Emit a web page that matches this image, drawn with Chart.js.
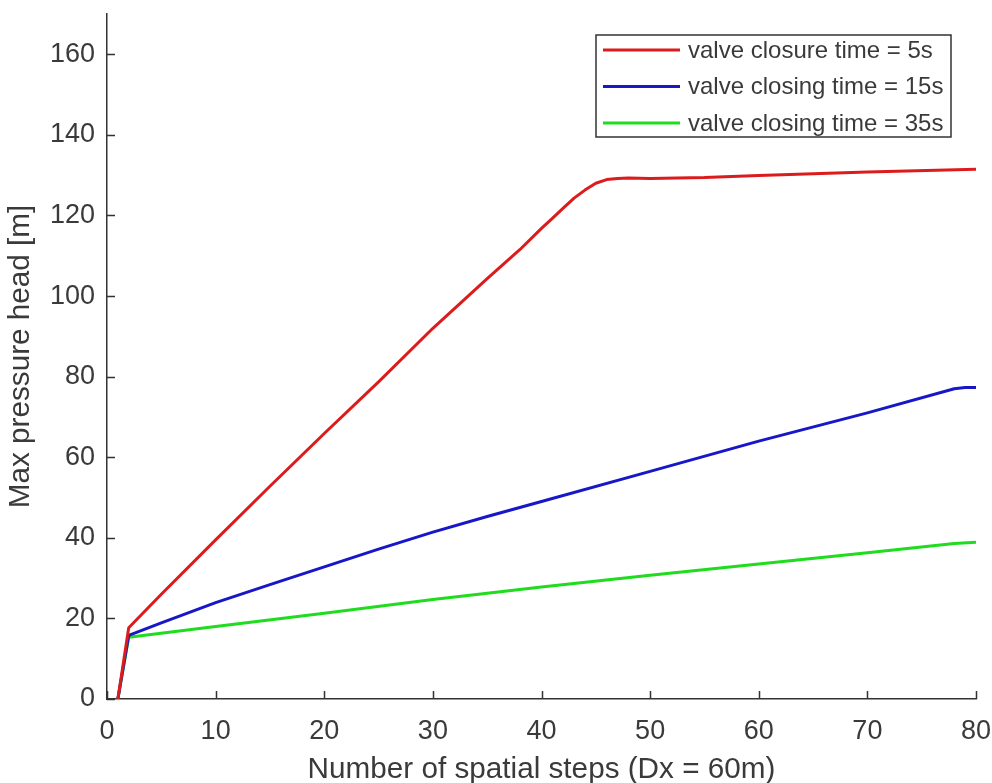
<!DOCTYPE html>
<html lang="en">
<head>
    <meta charset="UTF-8">
    <title>Max pressure head vs spatial steps</title>
    <script src="https://cdn.jsdelivr.net/npm/chart.js"></script>
    <style>
        body { margin: 0; background: #fff; }
        #wrap { width: 992px; height: 783px; }
    </style>
</head>
<body>
    <div id="wrap"><canvas id="headChart" width="992" height="783"></canvas></div>

    <script>
        // values
        const seriesLabels = ['valve closure time = 5s', 'valve closing time = 15s', 'valve closing time = 35s'];

        const redSteps = [1, 2, 5, 10, 15, 20, 25, 30, 35, 38, 40, 41, 42, 43, 44, 45, 46, 47, 48, 50, 55, 60, 70, 80];
        const redHead = [0, 17.7, 26, 39.5, 52.8, 65.9, 78.7, 92, 104.3, 111.5, 116.8, 119.3, 121.8, 124.3, 126.3, 128, 128.9, 129.2, 129.3, 129.2, 129.4, 129.9, 130.8, 131.5];

        const blueSteps = [1, 2, 5, 10, 15, 20, 25, 30, 35, 40, 50, 60, 70, 78, 79, 80];
        const blueHead = [0, 15.8, 18.9, 23.9, 28.4, 32.8, 37.2, 41.4, 45.3, 49, 56.5, 64, 71, 77, 77.3, 77.3];

        const greenSteps = [1, 2, 10, 20, 30, 40, 50, 60, 70, 78, 80];
        const greenHead = [0, 15.3, 18, 21.3, 24.7, 27.8, 30.7, 33.5, 36.3, 38.6, 38.9];

        const xTicks = [0, 10, 20, 30, 40, 50, 60, 70, 80];
        const yTicks = [0, 20, 40, 60, 80, 100, 120, 140, 160];

        const toPoints = (xs, ys) => xs.map((x, i) => ({ x: x, y: ys[i] }));

        const axisColor = '#333333';
        const textColor = '#3a3a3a';
        const family = "'Liberation Sans', Arial, sans-serif";

        // MATLAB style inward tick marks
        const innerTicks = {
            id: 'innerTicks',
            afterDraw(chart) {
                const ctx = chart.ctx;
                const xs = chart.scales.x, ys = chart.scales.y;
                ctx.save();
                ctx.strokeStyle = axisColor;
                ctx.lineWidth = 1.5;
                ctx.beginPath();
                xTicks.forEach(v => {
                    const px = Math.round(xs.getPixelForValue(v)) + 0.5;
                    ctx.moveTo(px, ys.bottom);
                    ctx.lineTo(px, ys.bottom - 8);
                });
                yTicks.forEach(v => {
                    const py = Math.round(ys.getPixelForValue(v)) + 0.5;
                    ctx.moveTo(xs.left, py);
                    ctx.lineTo(xs.left + 8, py);
                });
                ctx.stroke();
                ctx.restore();
            }
        };

        const boxLegend = {
            id: 'boxLegend',
            afterDraw(chart) {
                const ctx = chart.ctx;
                const area = chart.chartArea;
                const w = 355, h = 102;
                const x0 = area.right - 25 - w, y0 = area.top + 21;
                ctx.save();
                ctx.fillStyle = '#fff';
                ctx.fillRect(x0, y0, w, h);
                ctx.strokeStyle = axisColor;
                ctx.lineWidth = 1.5;
                ctx.strokeRect(x0, y0, w, h);
                ctx.font = '24px ' + family;
                ctx.textBaseline = 'middle';
                chart.data.datasets.forEach((ds, i) => {
                    const cy = y0 + 15 + i * 36.5;
                    ctx.strokeStyle = ds.borderColor;
                    ctx.lineWidth = 3;
                    ctx.beginPath();
                    ctx.moveTo(x0 + 7, cy);
                    ctx.lineTo(x0 + 84, cy);
                    ctx.stroke();
                    ctx.fillStyle = textColor;
                    ctx.fillText(ds.label, x0 + 92, cy + 1);
                });
                ctx.restore();
            }
        };

        new Chart(document.getElementById('headChart'), {
            type: 'line',
            data: {
                datasets: [
                    { label: seriesLabels[0], data: toPoints(redSteps, redHead), borderColor: '#dc1c1c' },
                    { label: seriesLabels[1], data: toPoints(blueSteps, blueHead), borderColor: '#1717c8' },
                    { label: seriesLabels[2], data: toPoints(greenSteps, greenHead), borderColor: '#1fdc1f' }
                ]
            },
            options: {
                responsive: false,
                animation: false,
                layout: { padding: { top: 14, right: 16, left: 0, bottom: 0 } },
                elements: {
                    line: { borderWidth: 3, tension: 0, borderJoinStyle: 'round' },
                    point: { radius: 0 }
                },
                plugins: {
                    legend: { display: false },
                    tooltip: { enabled: false }
                },
                scales: {
                    x: {
                        type: 'linear',
                        min: 0,
                        max: 80,
                        grid: { display: false, drawTicks: false },
                        border: { color: axisColor, width: 1.5 },
                        ticks: {
                            stepSize: 10,
                            padding: 16,
                            color: textColor,
                            font: { family: family, size: 27 }
                        },
                        title: {
                            display: true,
                            text: 'Number of spatial steps (Dx = 60m)',
                            color: textColor,
                            font: { family: family, size: 29.7, lineHeight: 1 },
                            padding: { top: 0, bottom: -2 }
                        },
                        afterFit(scale) {
                            scale.height = 84;
                            scale.paddingLeft = 0;
                            scale.paddingRight = 0;
                        }
                    },
                    y: {
                        type: 'linear',
                        min: 0,
                        max: 170,
                        grid: { display: false, drawTicks: false },
                        border: { color: axisColor, width: 1.5 },
                        ticks: {
                            stepSize: 20,
                            padding: 12,
                            color: textColor,
                            font: { family: family, size: 27 }
                        },
                        afterBuildTicks(scale) {
                            scale.ticks = yTicks.map(v => ({ value: v }));
                        },
                        title: {
                            display: true,
                            text: 'Max pressure head [m]',
                            color: textColor,
                            font: { family: family, size: 29.7, lineHeight: 1 },
                            padding: { top: 6, bottom: 0 }
                        },
                        afterFit(scale) {
                            scale.width = 107;
                            scale.paddingTop = 0;
                            scale.paddingBottom = 0;
                        }
                    }
                }
            },
            plugins: [innerTicks, boxLegend]
        });
    </script>
</body>
</html>
